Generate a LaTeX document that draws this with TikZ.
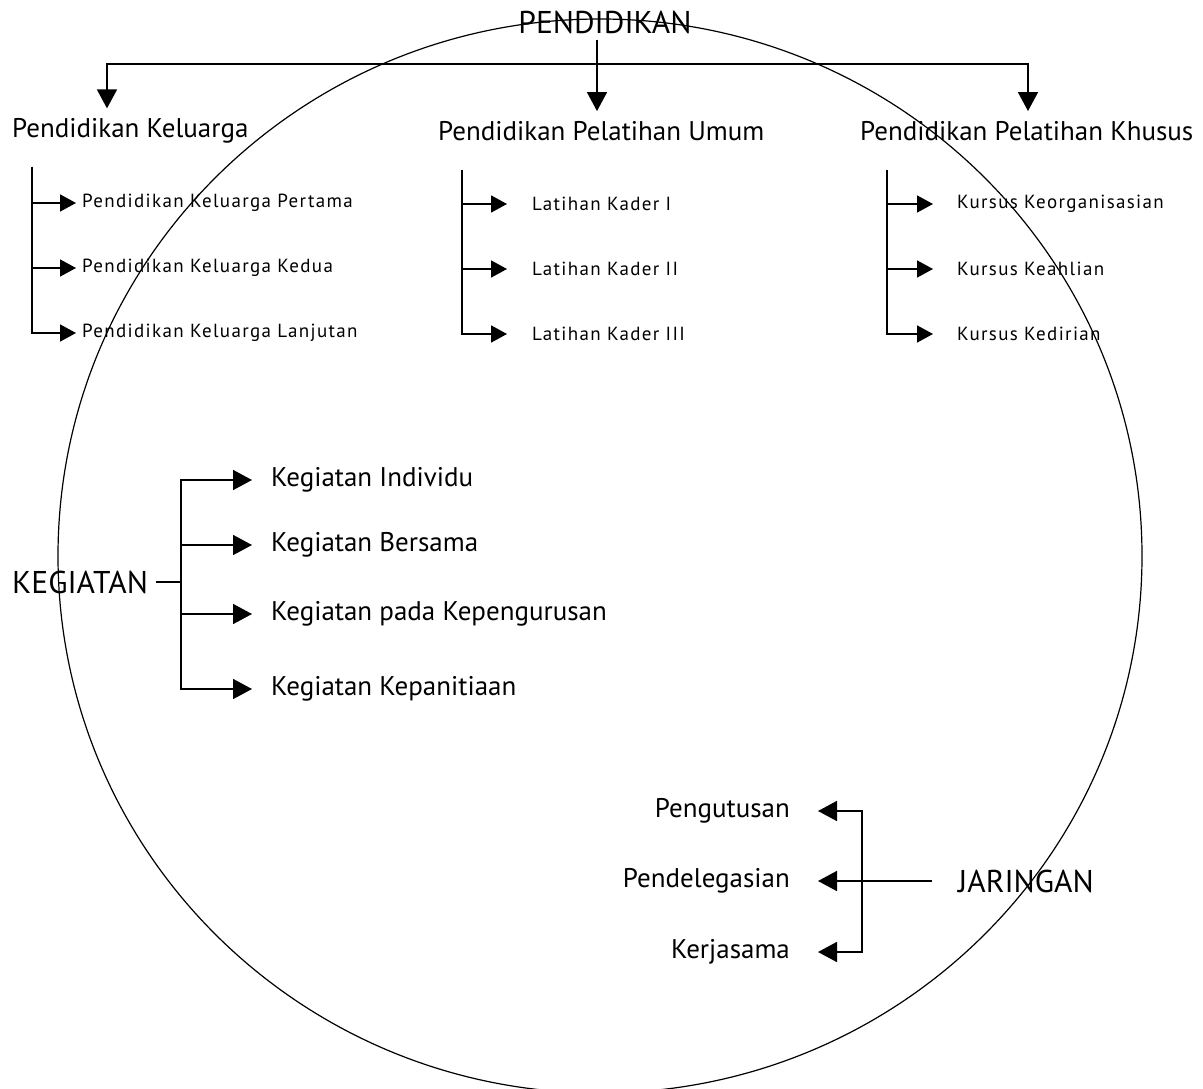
\documentclass[tikz,border=0pt]{standalone}
\usepackage{fontspec}
\setmainfont{PT Sans}
\newfontfamily\kecil[LetterSpace=7]{PT Sans}
\usetikzlibrary{positioning,arrows.meta,calc}

\begin{document}
\begin{tikzpicture}[x=1pt,y=-1pt,
      t/.style={inner sep=0pt, font=\fontsize{27}{32}\selectfont},
      ts/.style={inner sep=0pt, font=\kecil\fontsize{19}{23}\selectfont},
      tc/.style={inner sep=0pt, font=\fontsize{31.5}{36}\selectfont},
      ln/.style={line width=1.6pt},
      f/.style={-{Triangle[length=19pt,width=20pt]}, line width=1.6pt},
      fs/.style={-{Triangle[length=16pt,width=17pt]}, line width=1.6pt}]
    \useasboundingbox (0,0) rectangle (1203,1089);

    % --- lingkaran besar ---------------------------------------------
    \draw[line width=1.2pt] (600,556) ellipse [x radius=542, y radius=537];

    % --- PENDIDIKAN ----------------------------------------------------
    \node[tc] (pend) at (605,22) {PENDIDIKAN};
    \node[t, anchor=west] (kel) at (12,131) {Pendidikan Keluarga};
    \node[t, anchor=west] (umum) at (438,131) {Pendidikan Pelatihan Umum};
    \node[t, anchor=west] (khus) at (860,131) {Pendidikan Pelatihan Khusus};

    \coordinate (bar) at (597,64);
    \draw[f, shorten <=6pt, shorten >=10pt] (pend.south -| bar) -- (umum.north -| bar);
    \draw[f, shorten >=10pt] (bar) -| ($(kel.north west)+(95,0)$);
    \draw[f, shorten >=10pt] (bar) -| ($(khus.north west)+(168,0)$);

    % keluarga
    \node[ts, anchor=west] (k1) at (82,203) {Pendidikan Keluarga Pertama};
    \node[ts, below=65pt of k1.west, anchor=west] (k2) {Pendidikan Keluarga Kedua};
    \node[ts, below=65pt of k2.west, anchor=west] (k3) {Pendidikan Keluarga Lanjutan};
    \coordinate (kv) at (32,167);
    \foreach \y in {k1,k2,k3} \draw[fs, shorten >=6pt] (kv) |- (\y);

    % pelatihan umum
    \node[ts, anchor=west] (u1) at (532,204) {Latihan Kader I};
    \node[ts, below=65pt of u1.west, anchor=west] (u2) {Latihan Kader II};
    \node[ts, below=65pt of u2.west, anchor=west] (u3) {Latihan Kader III};
    \coordinate (uv) at (462,170);
    \foreach \y in {u1,u2,u3} \draw[fs, shorten >=25pt] (uv) |- (\y);

    % pelatihan khusus
    \node[ts, anchor=west] (s1) at (957,204) {Kursus Keorganisasian};
    \node[ts, below=65pt of s1.west, anchor=west] (s2) {Kursus Keahlian};
    \node[ts, below=65pt of s2.west, anchor=west] (s3) {Kursus Kedirian};
    \coordinate (sv) at (887,170);
    \foreach \y in {s1,s2,s3} \draw[fs, shorten >=24pt] (sv) |- (\y);

    % --- KEGIATAN ------------------------------------------------------
    \node[tc, anchor=west] (keg) at (12,582) {KEGIATAN};
    \node[t, anchor=west] (g1) at (271,480) {Kegiatan Individu};
    \node[t, anchor=west] (g2) at (271,545) {Kegiatan Bersama};
    \node[t, anchor=west] (g3) at (271,614) {Kegiatan pada Kepengurusan};
    \node[t, anchor=west] (g4) at (271,689) {Kegiatan Kepanitiaan};
    \coordinate (gv) at (181,582);
    \draw[ln] (keg.east) ++(8,0) -- (gv);
    \foreach \y in {g1,g2,g3,g4} \draw[f, shorten >=19pt] (gv) |- (\y);

    % --- JARINGAN ------------------------------------------------------
    \node[tc, anchor=west] (jar) at (958,881) {JARINGAN};
    \node[t, anchor=east] (j1) at (790,811) {Pengutusan};
    \node[t, anchor=east] (j2) at (790,881) {Pendelegasian};
    \node[t, anchor=east] (j3) at (790,952) {Kerjasama};
    \coordinate (jv) at (862,881);
    \draw[f, shorten <=26pt, shorten >=28pt] (jar) -- (j2);
    \foreach \y in {j1,j3} \draw[f, shorten >=28pt] (jv) |- (\y);
\end{tikzpicture}
\end{document}
